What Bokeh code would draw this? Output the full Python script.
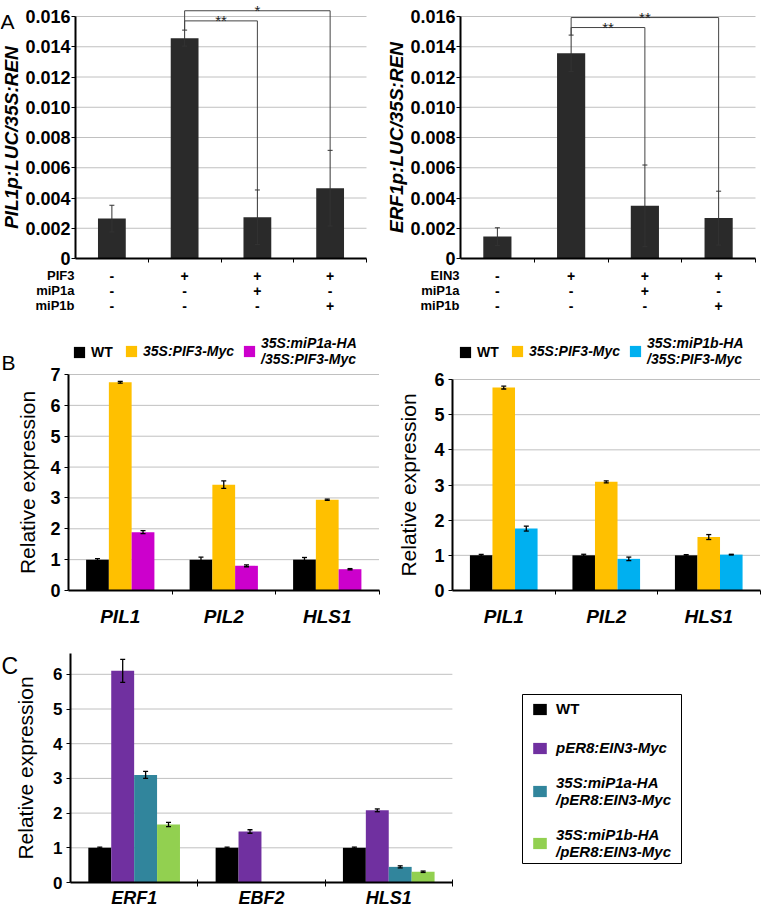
import numpy as np
from bokeh.plotting import figure
from bokeh.models import (ColumnDataSource, Whisker, TeeHead, FixedTicker,
                          PrintfTickFormatter, Legend, LegendItem, Range1d, LinearAxis)
from bokeh.layouts import column, row
from bokeh.embed import file_html
from bokeh.resources import INLINE
from bokeh.core.properties import value

FONT = "Liberation Sans"
GRID = "#c0c0c0"

# ---------------- Panel A data ----------------
a_left_values = [0.00264, 0.01457, 0.00273, 0.00465]
a_left_errors = [0.00088, 0.00053, 0.00180, 0.00250]
a_left_rows = ["PIF3", "miP1a", "miP1b"]
a_left_table = [["-", "+", "+", "+"],
                ["-", "-", "+", "-"],
                ["-", "-", "-", "+"]]
a_left_sig = [(1, 2, "**"), (1, 3, "*")]
a_left_ylabel = "PIL1p:LUC/35S:REN"

a_right_values = [0.00145, 0.01357, 0.00348, 0.00267]
a_right_errors = [0.00058, 0.00120, 0.00270, 0.00178]
a_right_rows = ["EIN3", "miP1a", "miP1b"]
a_right_table = [["-", "+", "+", "+"],
                 ["-", "-", "+", "-"],
                 ["-", "-", "-", "+"]]
a_right_sig = [(1, 2, "**"), (1, 3, "**")]
a_right_ylabel = "ERF1p:LUC/35S:REN"

a_ticks = [0, 0.002, 0.004, 0.006, 0.008, 0.010, 0.012, 0.014, 0.016]

# ---------------- Panel B data ----------------
b_genes = ["PIL1", "PIL2", "HLS1"]
b_left_labels = ["WT", "35S:PIF3-Myc", "35S:miP1a-HA\n/35S:PIF3-Myc"]
b_left_wt = [1.00, 1.00, 1.00]
b_left_wt_err = [0.03, 0.08, 0.07]
b_left_pif3 = [6.75, 3.43, 2.94]
b_left_pif3_err = [0.03, 0.12, 0.02]
b_left_mip1a = [1.89, 0.80, 0.69]
b_left_mip1a_err = [0.05, 0.03, 0.02]
b_left_ticks = [0, 1, 2, 3, 4, 5, 6, 7]

b_right_labels = ["WT", "35S:PIF3-Myc", "35S:miP1b-HA\n/35S:PIF3-Myc"]
b_right_wt = [1.00, 1.00, 1.00]
b_right_wt_err = [0.03, 0.03, 0.02]
b_right_pif3 = [5.77, 3.09, 1.52]
b_right_pif3_err = [0.04, 0.03, 0.07]
b_right_mip1b = [1.76, 0.90, 1.02]
b_right_mip1b_err = [0.07, 0.05, 0.01]
b_right_ticks = [0, 1, 2, 3, 4, 5, 6]

# ---------------- Panel C data ----------------
c_genes = ["ERF1", "EBF2", "HLS1"]
c_labels = ["WT", "pER8:EIN3-Myc", "35S:miP1a-HA\n/pER8:EIN3-Myc", "35S:miP1b-HA\n/pER8:EIN3-Myc"]
c_wt = [1.00, 1.00, 1.00]
c_wt_err = [0.02, 0.02, 0.02]
c_ein3 = [6.10, 1.47, 2.08]
c_ein3_err = [0.33, 0.05, 0.04]
c_mip1a = [3.10, np.nan, 0.45]
c_mip1a_err = [0.10, np.nan, 0.03]
c_mip1b = [1.67, np.nan, 0.31]
c_mip1b_err = [0.06, np.nan, 0.02]
c_ticks = [0, 1, 2, 3, 4, 5, 6]


class Geo:
    """pixel layout of a panel: canvas w,h; y-axis x px; px per category; zero y px; px per unit"""
    def __init__(self, w, h, x0, cw, y0, ph):
        self.w, self.h, self.x0, self.cw, self.y0, self.ph = w, h, x0, cw, y0, ph

    def dx(self, px):
        return (px - self.x0) / self.cw

    def dy(self, py):
        return (self.y0 - py) / self.ph


def canvas_fig(g):
    p = figure(width=g.w, height=g.h,
               x_range=Range1d(g.dx(0), g.dx(g.w)),
               y_range=Range1d(g.dy(g.h), g.dy(0)),
               x_axis_type=None, y_axis_type=None,
               output_backend="svg", toolbar_location=None,
               min_border_left=0, min_border_right=0,
               min_border_top=0, min_border_bottom=0)
    p.outline_line_color = None
    p.background_fill_color = "white"
    p.border_fill_color = "white"
    return p


def gridlines(p, ticks, n):
    ys = [t for t in ticks if t > 0]
    p.segment(x0=[0] * len(ys), x1=[n] * len(ys), y0=ys, y1=ys,
              line_color=GRID, line_width=1)


def add_whisker(p, x, vals, errs, color="black", width=1.2, size=5):
    v = np.array(vals, dtype=float)
    e = np.array(errs, dtype=float)
    xs = np.array(x, dtype=float)
    ok = np.isfinite(v) & np.isfinite(e)
    src = ColumnDataSource(dict(x=xs[ok], upper=(v + e)[ok], lower=(v - e)[ok]))
    w = Whisker(source=src, base="x", upper="upper", lower="lower", dimension="height",
                line_color=color, line_width=width,
                upper_head=TeeHead(size=size, line_color=color, line_width=width),
                lower_head=TeeHead(size=size, line_color=color, line_width=width),
                level="annotation")
    p.add_layout(w)


def add_xaxis(p, n, labels, font_size, standoff, tick_in=0):
    centers = [i + 0.5 for i in range(n)]
    ax = LinearAxis(fixed_location=0, bounds=(0, n),
                    ticker=FixedTicker(ticks=centers, minor_ticks=list(range(1, n + 1))))
    ax.major_label_overrides = {c: l for c, l in zip(centers, labels)}
    ax.major_tick_line_color = None
    ax.major_tick_out = 0
    ax.major_tick_in = 0
    ax.minor_tick_line_color = "black"
    ax.minor_tick_line_width = 1
    ax.minor_tick_out = 4
    ax.minor_tick_in = tick_in
    ax.axis_line_width = 2
    ax.axis_line_color = "black"
    ax.major_label_standoff = standoff
    ax.major_label_text_font = FONT
    ax.major_label_text_font_size = font_size
    ax.major_label_text_font_style = "bold italic"
    ax.major_label_text_color = "black"
    p.add_layout(ax, "below")
    return ax


def add_yaxis(p, ticks, top, tick_size, label, label_size, label_style, label_standoff,
              tick_standoff=4, fmt=None):
    ay = LinearAxis(fixed_location=0, bounds=(0, top), ticker=FixedTicker(ticks=ticks))
    if fmt:
        ay.formatter = PrintfTickFormatter(format=fmt)
        ay.major_label_overrides = {0: "0"}
    ay.axis_line_width = 2
    ay.axis_line_color = "black"
    ay.major_tick_out = 4
    ay.major_tick_in = 0
    ay.major_tick_line_color = "black"
    ay.minor_tick_line_color = None
    ay.major_label_standoff = tick_standoff
    ay.major_label_text_font = FONT
    ay.major_label_text_font_size = tick_size
    ay.major_label_text_font_style = "bold"
    ay.major_label_text_color = "black"
    ay.axis_label = label
    ay.axis_label_standoff = label_standoff
    ay.axis_label_text_font = FONT
    ay.axis_label_text_font_size = label_size
    ay.axis_label_text_font_style = label_style
    ay.axis_label_text_color = "black"
    p.add_layout(ay, "left")
    return ay


def panel_letter(p, letter, x_px, base_px, size):
    p.text(x=[p.x_range.start], y=[p.y_range.end], text=[letter], x_offset=x_px, y_offset=base_px,
           text_align="left", text_baseline="alphabetic", text_font=value(FONT),
           text_font_size=size, text_color="black")


def make_a(g, vals, errs, rows, table, sig, ylabel, levels, letter):
    n = len(vals)
    p = canvas_fig(g)
    gridlines(p, a_ticks, n)
    x = [i + 0.5 for i in range(n)]
    upper = [v + e for v, e in zip(vals, errs)]
    p.vbar(x=x, top=vals, width=0.382, fill_color="#2a2a2a", line_color=None)
    add_whisker(p, x, vals, errs, color="#333333", width=1, size=5)

    xs, ys, tx, ty, tt = [], [], [], [], []
    for (i, j, s), lvl in zip(sig, levels):
        xs.append([x[i], x[i], x[j], x[j]])
        ys.append([upper[i], lvl, lvl, upper[j]])
        tx.append((x[i] + x[j]) / 2)
        ty.append(lvl)
        tt.append(s)
    p.multi_line(xs, ys, line_color="#444444", line_width=1)
    p.text(tx, ty, text=tt, text_align="center", text_baseline="middle", y_offset=0,
           text_font=value(FONT), text_font_size="15px", text_color="#222222")

    add_xaxis(p, n, [""] * n, "13px", 0)
    add_yaxis(p, a_ticks, a_ticks[-1], "18px", ylabel, "19px", "bold italic", 0,
              tick_standoff=1, fmt="%.3f")

    # condition table below the axis
    row_off = [17, 32, 47]
    cx, cy, ct, co = [], [], [], []
    for r, cells in enumerate(table):
        for i, c in enumerate(cells):
            cx.append(x[i]); cy.append(0); ct.append(c); co.append(row_off[r])
    p.text(x=cx, y=cy, text=ct, y_offset=co, text_align="center", text_baseline="middle",
           text_font=value(FONT), text_font_size="14px", text_font_style="bold",
           text_color="black")
    p.text(x=[0] * len(rows), y=[0] * len(rows), text=rows, x_offset=-1, y_offset=row_off,
           text_align="right", text_baseline="middle", text_font=value(FONT),
           text_font_size="13px", text_font_style="bold", text_color="black")
    if letter:
        panel_letter(p, letter, 0, 21, "21px")
    return p


def draw_groups(p, n, series, bw):
    m = len(series)
    rs = []
    for k, (vals, errs, col) in enumerate(series):
        off = (k - (m - 1) / 2) * bw
        xs = [i + 0.5 + off for i in range(n)]
        r = p.vbar(x=xs, top=vals, width=bw, fill_color=col, line_color=None)
        add_whisker(p, xs, vals, errs, color="black", width=1.3, size=5)
        rs.append(r)
    return rs


def legend_style(**kw):
    base = dict(padding=0, margin=0, border_line_color=None, background_fill_alpha=0,
                label_text_font=FONT, label_text_color="black")
    base.update(kw)
    return base


def make_b(g, labels, series, ticks, ylab_standoff, leg_x1, leg_x2, letter):
    n = len(b_genes)
    p = canvas_fig(g)
    gridlines(p, ticks, n)
    rs = draw_groups(p, n, series, 0.22)
    add_xaxis(p, n, b_genes, "19px", 11)
    add_yaxis(p, ticks, ticks[-1], "18px", "Relative expression", "21px", "normal",
              ylab_standoff)
    l1 = Legend(items=[LegendItem(label=value(labels[0]), renderers=[rs[0]])],
                location=(leg_x1, g.h - 46), orientation="horizontal",
                **legend_style(glyph_width=14, glyph_height=14, label_standoff=5,
                               label_height=14, label_text_font_size="14px",
                               label_text_font_style="bold"))
    l2 = Legend(items=[LegendItem(label=value(l), renderers=[r]) for l, r in zip(labels[1:], rs[1:])],
                location=(leg_x2, g.h - 53), orientation="horizontal",
                **legend_style(glyph_width=14, glyph_height=14, label_standoff=5, spacing=8,
                               label_height=14, label_text_font_size="14px",
                               label_text_font_style="bold italic",
                               label_text_line_height=1.05))
    p.add_layout(l1)
    p.add_layout(l2)
    if letter:
        panel_letter(p, letter, 1, 48, "21px")
    return p


# ---------------- build panels ----------------
ga1 = Geo(380, 314, 75, 72.75, 258, (258 - 16) / 0.016)
ga2 = Geo(383, 314, 80, 73.75, 258, (258 - 16) / 0.016)
a1 = make_a(ga1, a_left_values, a_left_errors, a_left_rows, a_left_table, a_left_sig,
            a_left_ylabel, [0.01571, 0.01638], "A")
a2 = make_a(ga2, a_right_values, a_right_errors, a_right_rows, a_right_table, a_right_sig,
            a_right_ylabel, [0.01527, 0.01593], None)

gb1 = Geo(380, 316, 68, 103.5, 276, 216 / 7)
gb2 = Geo(383, 316, 72, 102.5, 276, 211 / 6)
b1 = make_b(gb1, b_left_labels,
            [(b_left_wt, b_left_wt_err, "#000000"),
             (b_left_pif3, b_left_pif3_err, "#FFC000"),
             (b_left_mip1a, b_left_mip1a_err, "#CC00CC")],
            b_left_ticks, 8, 72, 124, "B")
b2 = make_b(gb2, b_right_labels,
            [(b_right_wt, b_right_wt_err, "#000000"),
             (b_right_pif3, b_right_pif3_err, "#FFC000"),
             (b_right_mip1b, b_right_mip1b_err, "#00B0F0")],
            b_right_ticks, 11, 78, 130, None)

gc = Geo(763, 279, 70, 127.3, 252, 34.7)
c_top = 6.6
pc = canvas_fig(gc)
gridlines(pc, c_ticks, len(c_genes))
rc = draw_groups(pc, len(c_genes),
                 [(c_wt, c_wt_err, "#000000"),
                  (c_ein3, c_ein3_err, "#7030A0"),
                  (c_mip1a, c_mip1a_err, "#31859C"),
                  (c_mip1b, c_mip1b_err, "#92D050")], 0.18)
add_xaxis(pc, len(c_genes), c_genes, "18px", 1, tick_in=3)
add_yaxis(pc, c_ticks, c_top, "17px", "Relative expression", "21px", "normal", 13)

# legend box (frame) and two legends inside it
pc.quad(left=[gc.dx(522)], right=[gc.dx(681)], top=[gc.dy(64)], bottom=[gc.dy(233)],
        fill_color="white", line_color="black", line_width=1)
lc1 = Legend(items=[LegendItem(label=value(c_labels[0]), renderers=[rc[0]])],
             location=(531, gc.h - 87), orientation="vertical",
             **legend_style(glyph_width=17, glyph_height=14, label_standoff=8,
                            label_height=16, label_text_font_size="15px",
                            label_text_font_style="bold"))
lc2 = Legend(items=[LegendItem(label=value(l), renderers=[r]) for l, r in zip(c_labels[1:], rc[1:])],
             location=(531, gc.h - 230), orientation="vertical",
             **legend_style(glyph_width=17, glyph_height=14, label_standoff=8, spacing=18,
                            label_height=16, label_text_font_size="15px",
                            label_text_font_style="bold italic",
                            label_text_line_height=1.1))
pc.add_layout(lc1)
pc.add_layout(lc2)
panel_letter(pc, "C", 1, 35, "23px")

layout = column(row(a1, a2), row(b1, b2), pc)
open("out.html", "w").write(file_html(layout, INLINE))
